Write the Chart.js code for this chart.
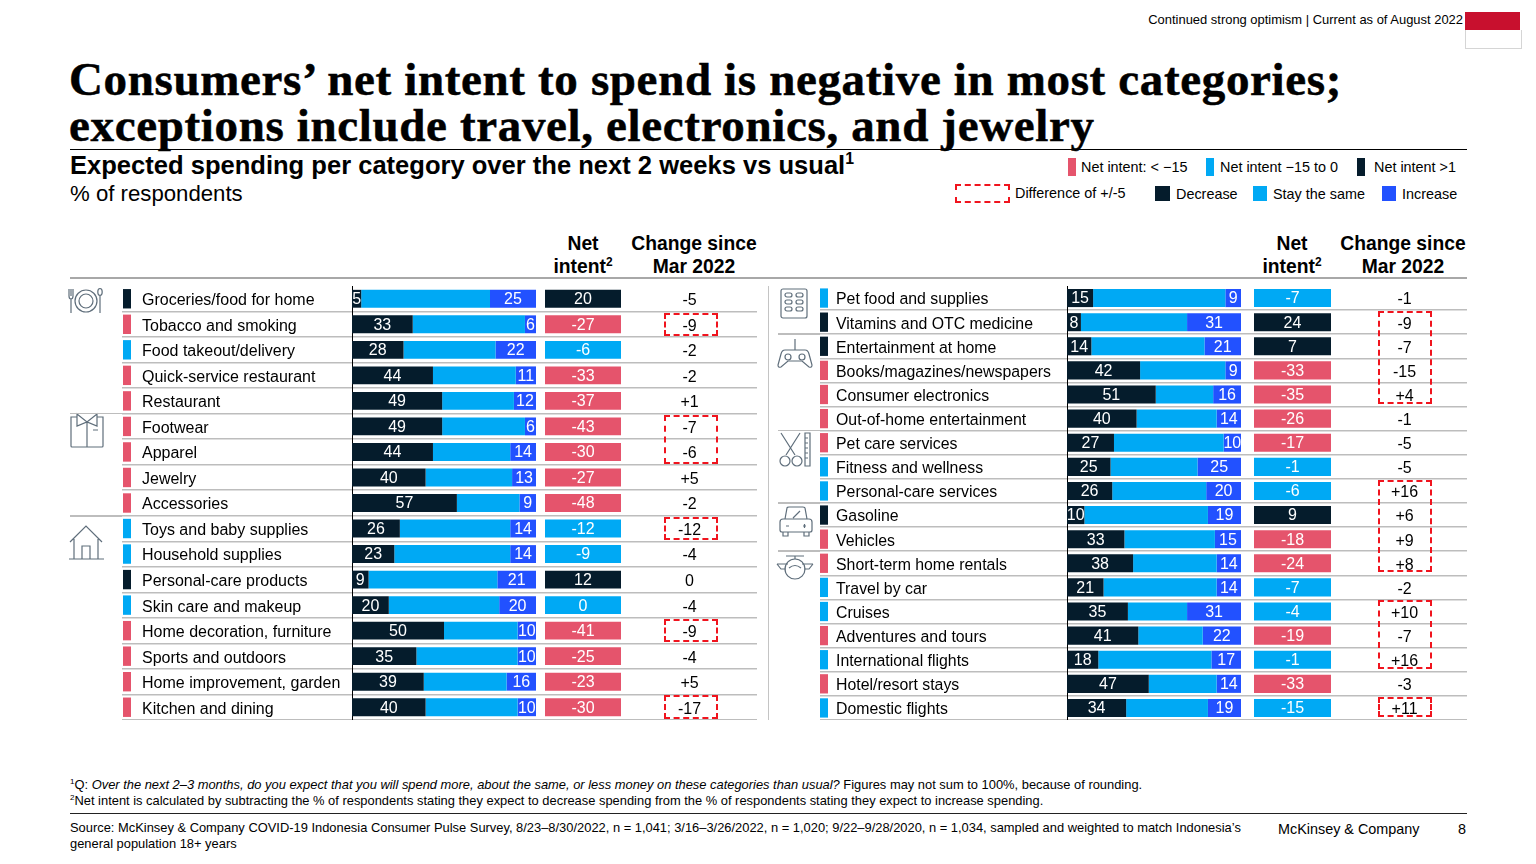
<!DOCTYPE html>
<html>
<head>
<meta charset="utf-8">
<title>Net intent to spend</title>
<script src="https://cdnjs.cloudflare.com/ajax/libs/Chart.js/4.4.1/chart.umd.min.js"></script>
<style>
  html, body { margin: 0; padding: 0; background: #fff; }
  body { width: 1536px; height: 864px; position: relative; overflow: hidden; font-family: "Liberation Sans", Arial, sans-serif; color: #000; }
  canvas { position: absolute; }
  .t { position: absolute; white-space: nowrap; }
  .r { position: absolute; }
  .chip { position: absolute; }
  .box { position: absolute; box-sizing: border-box; border: 2px dashed #f0141e; }
  .hd { position: absolute; font-weight: bold; font-size: 19.3px; line-height: 23px; text-align: center; width: 150px; }
  sup { font-size: 62%; line-height: 0; }
  svg { position: absolute; fill: none; stroke: #5f6e7b; stroke-width: 1.2; }
</style>
</head>
<body>

<div class="t" style="right:73px;top:12px;font-size:12.95px">Continued strong optimism | Current as of August 2022</div>
<div class="r" style="left:1465px;top:12px;width:55px;height:18px;background:#c8102e"></div>
<div class="r" style="left:1465px;top:30px;width:55px;height:18px;border:1px solid #d5d5d5;border-top:0;box-sizing:content-box"></div>

<div class="t" style="left:69px;top:56px;font:bold 47px/46px 'Liberation Serif',serif;letter-spacing:.65px;-webkit-text-stroke:.5px #000">Consumers’ net intent to spend is negative in most categories;<br>exceptions include travel, electronics, and jewelry</div>
<div class="r" style="left:70px;top:149px;width:1397px;height:1px;background:#000"></div>
<div class="t" style="left:70px;top:150px;font:bold 25.55px/30px 'Liberation Sans'">Expected spending per category over the next 2 weeks vs usual<sup>1</sup></div>
<div class="t" style="left:70px;top:181px;font-size:22.2px;line-height:26px">% of respondents</div>

<!-- legend -->
<div class="chip" style="left:1068px;top:158px;width:8px;height:18px;background:#e5546c"></div>
<div class="t" style="left:1081px;top:159px;font-size:14.4px">Net intent: &lt; −15</div>
<div class="chip" style="left:1206px;top:158px;width:8px;height:18px;background:#00a9f4"></div>
<div class="t" style="left:1220px;top:159px;font-size:14.4px">Net intent −15 to 0</div>
<div class="chip" style="left:1357px;top:158px;width:8px;height:18px;background:#051c2c"></div>
<div class="t" style="left:1374px;top:159px;font-size:14.4px">Net intent &gt;1</div>
<div class="box" style="left:955px;top:184px;width:55px;height:19px"></div>
<div class="t" style="left:1015px;top:185px;font-size:14.4px">Difference of +/-5</div>
<div class="chip" style="left:1155px;top:186px;width:15px;height:15px;background:#051c2c"></div>
<div class="t" style="left:1176px;top:186px;font-size:14.4px">Decrease</div>
<div class="chip" style="left:1253px;top:186px;width:14px;height:15px;background:#00a9f4"></div>
<div class="t" style="left:1273px;top:186px;font-size:14.4px">Stay the same</div>
<div class="chip" style="left:1382px;top:186px;width:14px;height:15px;background:#2251ff"></div>
<div class="t" style="left:1402px;top:186px;font-size:14.4px">Increase</div>

<!-- column headers -->
<div class="hd" style="left:508px;top:232px">Net<br>intent<sup>2</sup></div>
<div class="hd" style="left:619px;top:232px">Change since<br>Mar 2022</div>
<div class="hd" style="left:1217px;top:232px">Net<br>intent<sup>2</sup></div>
<div class="hd" style="left:1328px;top:232px">Change since<br>Mar 2022</div>
<div class="r" style="left:70px;top:277px;width:1397px;height:2px;background:#a8a8a8"></div>
<div class="r" style="left:768px;top:286px;width:1px;height:434px;background:#c4c4c4"></div>

<!-- group icons -->
<svg style="left:68px;top:287px" width="37" height="28" viewBox="0 0 37 28">
  <path d="M1 2v7q0 3 2 3v14M3 2v7M5 2v7q0 3-2 3"/><circle cx="18" cy="14" r="11"/><circle cx="18" cy="14" r="7"/><ellipse cx="32" cy="5" rx="2.2" ry="3.5"/><path d="M32 9v17"/>
</svg>
<svg style="left:69px;top:412px" width="36" height="38" viewBox="0 0 36 38">
  <path d="M8 5H2v29q0 1 1 1h30q1 0 1-1V5h-6"/><path d="M8 2l10 8 10-8v12l-10-4-10 4zM18 10v25M24 18h5"/>
</svg>
<svg style="left:69px;top:524px" width="35" height="38" viewBox="0 0 35 38">
  <path d="M1 18L17 2l16 16M5 15v20M29 15v20M0 35h35M13 35V22h8v13"/>
</svg>
<svg style="left:780px;top:288px" width="28" height="32" viewBox="0 0 28 32">
  <rect x="1" y="1" width="26" height="29" rx="2"/><rect x="5" y="5" width="7" height="4" rx="2"/><rect x="16" y="5" width="7" height="4" rx="2"/><rect x="5" y="12" width="7" height="4" rx="2"/><rect x="16" y="12" width="7" height="4" rx="2"/><rect x="5" y="19" width="7" height="4" rx="2"/><rect x="16" y="19" width="7" height="4" rx="2"/>
</svg>
<svg style="left:777px;top:338px" width="36" height="32" viewBox="0 0 36 32">
  <path d="M18 1v11M8 12h20q3 0 4 4l3 11q0 3-3 2l-7-6H11l-7 6q-3 1-3-2l3-11q1-4 4-4z"/><circle cx="11" cy="19" r="3"/><circle cx="25" cy="19" r="3"/>
</svg>
<svg style="left:778px;top:432px" width="36" height="36" viewBox="0 0 36 36">
  <path d="M3 1l14 22M22 1L8 23"/><circle cx="7" cy="29" r="5"/><circle cx="19" cy="29" r="5"/><path d="M27 1h5v33h-5zM27 6h3M27 11h3M27 16h3M27 21h3M27 26h3"/>
</svg>
<svg style="left:778px;top:505px" width="36" height="34" viewBox="0 0 36 34">
  <path d="M7 14l2-11q0-1 2-1h14q2 0 2 1l2 11M5 14h26q3 0 3 3v8q0 2-2 2H4q-2 0-2-2v-8q0-3 3-3zM5 27v4h5v-4M26 27v4h5v-4M15 13l7-7M8 21h3M25 21h3M26.500 19v4"/>
</svg>
<svg style="left:776px;top:553px" width="38" height="30" viewBox="0 0 38 30">
  <circle cx="19" cy="16" r="10"/><path d="M10 3h18M19 3v3M1 11h11M26 11h11M1 11l4 5h5M37 11l-4 5h-5M13 15q6-5 12 0"/>
</svg>

<script>
// --- left panel data ---
var leftCategories = ['Groceries/food for home', 'Tobacco and smoking', 'Food takeout/delivery', 'Quick-service restaurant', 'Restaurant',
  'Footwear', 'Apparel', 'Jewelry', 'Accessories', 'Toys and baby supplies', 'Household supplies', 'Personal-care products',
  'Skin care and makeup', 'Home decoration, furniture', 'Sports and outdoors', 'Home improvement, garden', 'Kitchen and dining'];
var leftDecrease = [5, 33, 28, 44, 49, 49, 44, 40, 57, 26, 23, 9, 20, 50, 35, 39, 40];
var leftSame = [70, 61, 50, 45, 39, 45, 42, 47, 34, 60, 63, 70, 60, 40, 55, 45, 50];
var leftIncrease = [25, 6, 22, 11, 12, 6, 14, 13, 9, 14, 14, 21, 20, 10, 10, 16, 10];
var leftNet = [20, -27, -6, -33, -37, -43, -30, -27, -48, -12, -9, 12, 0, -41, -25, -23, -30];
var leftChange = ['-5', '-9', '-2', '-2', '+1', '-7', '-6', '+5', '-2', '-12', '-4', '0', '-4', '-9', '-4', '+5', '-17'];

// --- right panel data ---
var rightCategories = ['Pet food and supplies', 'Vitamins and OTC medicine', 'Entertainment at home', 'Books/magazines/newspapers', 'Consumer electronics',
  'Out-of-home entertainment', 'Pet care services', 'Fitness and wellness', 'Personal-care services', 'Gasoline', 'Vehicles', 'Short-term home rentals',
  'Travel by car', 'Cruises', 'Adventures and tours', 'International flights', 'Hotel/resort stays', 'Domestic flights'];
var rightDecrease = [15, 8, 14, 42, 51, 40, 27, 25, 26, 10, 33, 38, 21, 35, 41, 18, 47, 34];
var rightSame = [76, 61, 65, 49, 33, 46, 63, 50, 54, 71, 52, 48, 65, 34, 37, 65, 39, 47];
var rightIncrease = [9, 31, 21, 9, 16, 14, 10, 25, 20, 19, 15, 14, 14, 31, 22, 17, 14, 19];
var rightNet = [-7, 24, 7, -33, -35, -26, -17, -1, -6, 9, -18, -24, -7, -4, -19, -1, -33, -15];
var rightChange = ['-1', '-9', '-7', '-15', '+4', '-1', '-5', '-5', '+16', '+6', '+9', '+8', '-2', '+10', '-7', '+16', '-3', '+11'];

// rows where a new group starts, and first/last row of each dashed box
var leftGroups = [5, 9];
var rightGroups = [2, 6, 9, 11];
var leftBoxes = [[1, 1], [5, 6], [9, 9], [13, 13], [16, 16]];
var rightBoxes = [[1, 4], [8, 11], [13, 15], [17, 17]];

var NAVY = '#051c2c', SKY = '#00a9f4', BLUE = '#2251ff', PINK = '#e5546c';
var TOP = 286, HEIGHT = 434;
var LABEL_FAMILY = 'Liberation Sans';

function netColor(v) {
  if (v < -15) return PINK;
  if (v > 1) return NAVY;
  return SKY;
}

function addCanvas(left, width) {
  var c = document.createElement('canvas');
  c.width = width;
  c.height = HEIGHT;
  c.style.left = left + 'px';
  c.style.top = TOP + 'px';
  c.style.width = width + 'px';
  c.style.height = HEIGHT + 'px';
  document.body.appendChild(c);
  return c;
}

// fixed axis width, and no extra room above/below for the first and last label
function fixWidth(width) {
  return function (s) {
    s.width = width;
    s.paddingTop = 0;
    s.paddingBottom = 0;
  };
}

// writes ds.texts in the middle of each bar
var barTexts = {
  id: 'barTexts',
  afterDatasetsDraw: function (chart) {
    var ctx = chart.ctx;
    ctx.save();
    ctx.fillStyle = '#fff';
    ctx.font = '16px "Liberation Sans"';
    ctx.textAlign = 'center';
    ctx.textBaseline = 'middle';
    chart.data.datasets.forEach(function (ds, i) {
      if (!ds.texts) return;
      chart.getDatasetMeta(i).data.forEach(function (bar, j) {
        var p = bar.getCenterPoint();
        ctx.fillText(ds.texts[j], p.x, p.y + 1);
      });
    });
    ctx.restore();
  }
};

function baseOptions() {
  return {
    indexAxis: 'y',
    responsive: false,
    animation: false,
    layout: { padding: 0 },
    plugins: { legend: { display: false }, tooltip: { enabled: false } }
  };
}

// row rules behind everything
function ruleChart(left, width, categories) {
  var opts = baseOptions();
  opts.scales = {
    x: { display: false },
    y: {
      afterFit: fixWidth(0),
      ticks: { display: false },
      border: { display: false },
      grid: {
        drawTicks: false,
        lineWidth: 1.5,
        color: function (c) { return (c.index === 0 || c.index === categories.length) ? 'transparent' : '#bdbdbd'; }
      }
    }
  };
  new Chart(addCanvas(left, width), { type: 'bar', data: { labels: categories, datasets: [] }, options: opts });
}

// colour key per row
function chipChart(left, width, categories, net, barPct) {
  var opts = baseOptions();
  opts.scales = { x: { display: false, min: 0, max: 1 }, y: { display: false } };
  new Chart(addCanvas(left, width), {
    type: 'bar',
    data: {
      labels: categories,
      datasets: [{ data: net.map(function () { return 1; }), backgroundColor: net.map(netColor), barPercentage: barPct, categoryPercentage: 1 }]
    },
    options: opts
  });
}

// category names + decrease/same/increase stack
function stackChart(left, labelWidth, barWidth, categories, dec, same, inc, barPct, fontSize) {
  var opts = baseOptions();
  opts.scales = {
    x: { display: false, stacked: true, min: 0, max: 100 },
    y: {
      stacked: true,
      afterFit: fixWidth(labelWidth),
      ticks: { autoSkip: false, crossAlign: 'far', padding: 0, labelOffset: 2, color: '#000', font: { family: LABEL_FAMILY, size: fontSize } },
      grid: { display: false, drawTicks: false },
      border: { display: true, color: '#000', width: 1 }
    }
  };
  function seg(values, color, texts) {
    return { data: values, texts: texts, backgroundColor: color, borderColor: '#fff', borderWidth: { left: 1, right: 0, top: 0, bottom: 0 }, barPercentage: barPct, categoryPercentage: 1 };
  }
  new Chart(addCanvas(left, labelWidth + barWidth), {
    type: 'bar',
    data: {
      labels: categories,
      datasets: [seg(dec, NAVY, dec.map(String)), seg(same, SKY, null), seg(inc, BLUE, inc.map(String))]
    },
    options: opts,
    plugins: [barTexts]
  });
}

// net intent tile + change column as a right hand axis
function netChart(left, tileWidth, axisWidth, axisPad, categories, net, change, barPct) {
  var opts = baseOptions();
  opts.scales = {
    x: { display: false, min: 0, max: 1 },
    y: {
      position: 'right',
      afterFit: fixWidth(axisWidth),
      ticks: {
        autoSkip: false, crossAlign: 'center', padding: axisPad, labelOffset: 2, color: '#000', font: { family: LABEL_FAMILY, size: 16 },
        callback: function (v, i) { return change[i]; }
      },
      grid: { display: false, drawTicks: false },
      border: { display: false }
    }
  };
  new Chart(addCanvas(left, tileWidth + axisWidth), {
    type: 'bar',
    data: {
      labels: categories,
      datasets: [{ data: net.map(function () { return 1; }), texts: net.map(String), backgroundColor: net.map(netColor), barPercentage: barPct, categoryPercentage: 1 }]
    },
    options: opts,
    plugins: [barTexts]
  });
}

function addBoxes(boxes, n, left, width, bottomInset) {
  var rowH = HEIGHT / n;
  boxes.forEach(function (b) {
    var d = document.createElement('div');
    d.className = 'box';
    var y0 = TOP + b[0] * rowH + 1;
    var y1 = TOP + (b[1] + 1) * rowH - bottomInset;
    d.style.cssText = 'left:' + left + 'px;top:' + y0 + 'px;width:' + width + 'px;height:' + (y1 - y0) + 'px';
    document.body.appendChild(d);
  });
}

function addGroupRules(groups, n, left, width) {
  var rowH = HEIGHT / n;
  groups.forEach(function (g) {
    var d = document.createElement('div');
    d.className = 'r';
    d.style.cssText = 'left:' + left + 'px;top:' + (TOP + g * rowH - 0.75) + 'px;width:' + width + 'px;height:1.5px;background:#bdbdbd';
    document.body.appendChild(d);
  });
}

// left panel
ruleChart(122, 635, leftCategories);
addGroupRules(leftGroups, leftCategories.length, 70, 52);
chipChart(123, 8, leftCategories, leftNet, 0.76);
stackChart(142, 210, 184, leftCategories, leftDecrease, leftSame, leftIncrease, 0.7, 16);
netChart(545, 76, 136, 57, leftCategories, leftNet, leftChange, 0.7);
addBoxes(leftBoxes, leftCategories.length, 664, 54, 1);

// right panel
ruleChart(820, 647, rightCategories);
addGroupRules(rightGroups, rightCategories.length, 778, 42);
chipChart(820, 8, rightCategories, rightNet, 0.8);
stackChart(836, 231, 174, rightCategories, rightDecrease, rightSame, rightIncrease, 0.75, 15.85);
netChart(1254, 77, 136, 60, rightCategories, rightNet, rightChange, 0.75);
addBoxes(rightBoxes, rightCategories.length, 1378, 54, 3);
</script>

<div class="t" style="left:70px;top:777px;font-size:12.9px;line-height:16px"><sup>1</sup>Q: <i>Over the next 2–3 months, do you expect that you will spend more, about the same, or less money on these categories than usual?</i> Figures may not sum to 100%, because of rounding.<br><sup>2</sup>Net intent is calculated by subtracting the % of respondents stating they expect to decrease spending from the % of respondents stating they expect to increase spending.</div>
<div class="r" style="left:70px;top:813px;width:1397px;height:1px;background:#222"></div>
<div class="t" style="left:70px;top:820px;font-size:12.9px;line-height:16px">Source: McKinsey &amp; Company COVID-19 Indonesia Consumer Pulse Survey, 8/23–8/30/2022, n = 1,041; 3/16–3/26/2022, n = 1,020; 9/22–9/28/2020, n = 1,034, sampled and weighted to match Indonesia’s<br>general population 18+ years</div>
<div class="t" style="left:1278px;top:821px;font-size:14.4px">McKinsey &amp; Company</div>
<div class="t" style="left:1458px;top:821px;font-size:14.4px">8</div>

</body>
</html>
